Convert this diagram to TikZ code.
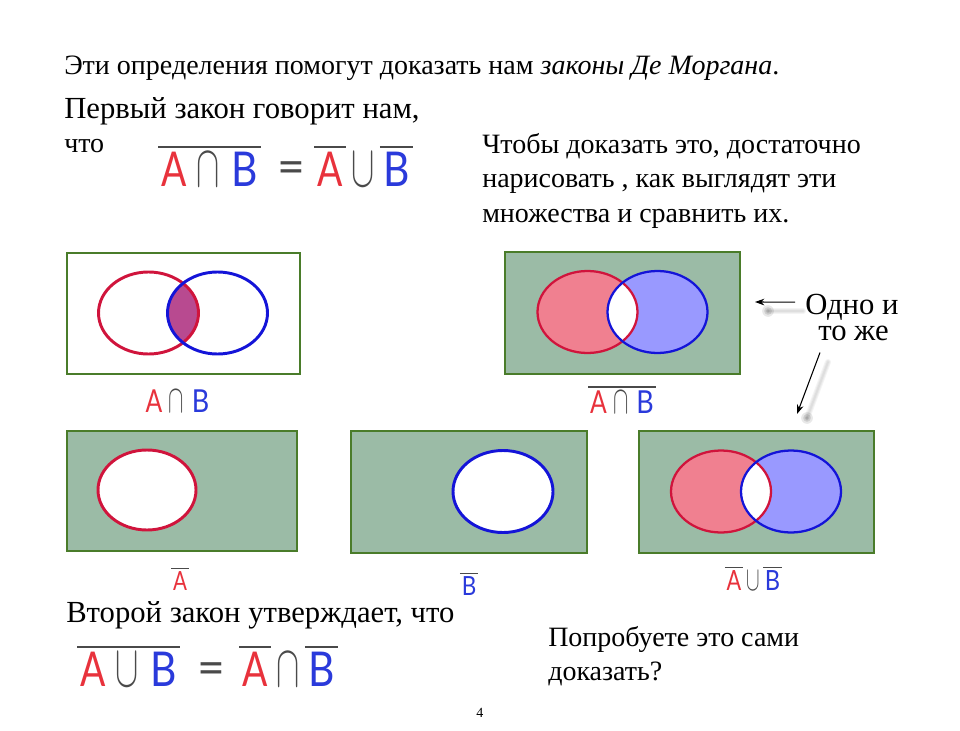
\documentclass[tikz,border=0pt]{standalone}
\usepackage{fontspec}
\setmainfont{Liberation Serif}
\newfontfamily\handfont{Lato}
\usetikzlibrary{arrows.meta}
\definecolor{lawred}{HTML}{E8323C}
\definecolor{lawblue}{HTML}{2A3ADB}
\definecolor{lawgray}{HTML}{4A4A4A}
\definecolor{boxgreen}{HTML}{4A7C2A}
\definecolor{boxfill}{HTML}{9BBBA6}
\definecolor{setred}{HTML}{D0143C}
\definecolor{setblue}{HTML}{1414D8}
\definecolor{fillred}{HTML}{F08090}
\definecolor{fillblue}{HTML}{9999FF}
\definecolor{fillboth}{HTML}{B84A90}
% hand written letters, all at one size, nodes scale them
\newcommand{\lawA}{\textcolor{lawred}{\scalebox{0.78}[1]{\handfont A}}}
\newcommand{\lawB}{\textcolor{lawblue}{\scalebox{0.85}[1]{\handfont B}}}
\newcommand{\lawcap}{\textcolor{lawgray}{\scalebox{1.05}[1.8]{$\cap$}}}
\newcommand{\lawcup}{\textcolor{lawgray}{\scalebox{1.05}[1.8]{$\cup$}}}
\newcommand{\lawbar}[1]{\vbox{\color{lawgray}\hrule height 1.5pt\vskip 3pt\hbox{\hskip 2.5pt #1\hskip 2.5pt}}}
\newcommand{\setA}[1]{(#1) ellipse [x radius=50, y radius=41]}

\begin{document}
\begin{tikzpicture}[
    x=0.75pt, y=-0.75pt,
    txt/.style = {anchor=base west, inner sep=0pt},
    line/.style = {txt, font=\fontsize{21}{25}\selectfont},
    big/.style = {txt, font=\fontsize{23}{27}\selectfont},
    hand/.style = {anchor=base, inner sep=0pt, font=\fontsize{36}{36}\selectfont},
    frame/.style = {draw=boxgreen, line width=2.2pt},
    filled/.style = {frame, fill=boxfill},
    redset/.style = {draw=setred, line width=2.2pt},
    blueset/.style = {draw=setblue, line width=2.2pt},
    thinred/.style = {draw=setred, line width=1.7pt},
    thinblue/.style = {draw=setblue, line width=1.7pt},
    pil/.style = {black, line width=0.8pt, -{Stealth[length=7pt,width=5pt]}},
    shade/.style = {line cap=round, black, opacity=0.045},
    blob/.style = {black, opacity=0.09}
    ]
  \useasboundingbox (0,0) rectangle (960,731);
  \fill[white] (0,0) rectangle (960,731);

  \node[line] (intro) at (64,75) {Эти определения помогут доказать нам \textit{законы Де Моргана}.};
  \node[big] (first) at (64,119) {Первый закон говорит нам,};
  \node[line] (what) at (64,153) {что};
  \node[line] (p1) at (482,154) {Чтобы доказать это, достаточно};
  \node[line] (p2) at (482,188) {нарисовать , как выглядят эти};
  \node[line] (p3) at (482,222) {множества и сравнить их.};
  \node[big] (second) at (66,622) {Второй закон утверждает, что};
  \node[line] (try1) at (548,646) {Попробуете это сами};
  \node[line] (try2) at (548,680) {доказать?};
  \node[txt, font=\fontsize{10.5}{12}\selectfont] (page) at (476,717) {4};

  % first law
  \node[hand] (f1) at (209.5,186) {\lawbar{\lawA\hskip 7pt\lawcap\hskip 9pt\lawB}};
  \node[hand] (f2) at (291.5,184) {\textcolor{lawgray}{\handfont =}};
  \node[hand] (f3) at (363.5,186) {\lawbar{\lawA}\hskip 4pt\lawcup\hskip 4pt\lawbar{\lawB}};
  % second law
  \node[hand] (g1) at (128.5,686) {\lawbar{\lawA\hskip 7pt\lawcup\hskip 9pt\lawB}};
  \node[hand] (g2) at (211.5,684) {\textcolor{lawgray}{\handfont =}};
  \node[hand] (g3) at (288.5,686) {\lawbar{\lawA}\hskip 4pt\lawcap\hskip 4pt\lawbar{\lawB}};

  % A and B
  \draw[frame] (67,253) rectangle (300,374);
  \begin{scope}
    \clip \setA{148.5,313};
    \fill[fillboth] \setA{217.5,313};
  \end{scope}
  \draw[redset] \setA{148.5,313};
  \draw[blueset] \setA{217.5,313};
  \node[hand, scale=0.66] (l1) at (177.5,412) {\lawA\hskip 7pt\lawcap\hskip 9pt\lawB};

  % not (A and B), not (A or B)
  \foreach \bx/\by/\ax/\ay/\cx/\cy in {505/252/587.5/312/657.5/312, 639/431/721/491.5/791/491.5}{
    \draw[filled] (\bx,\by) rectangle ++(235,122);
    \fill[fillred] \setA{\ax,\ay};
    \fill[fillblue] \setA{\cx,\cy};
    \begin{scope}
      \clip \setA{\ax,\ay};
      \fill[white] \setA{\cx,\cy};
    \end{scope}
    \draw[thinred] \setA{\ax,\ay};
    \draw[thinblue] \setA{\cx,\cy};
  }
  \node[hand, scale=0.66] (l2) at (622,413) {\lawbar{\lawA\hskip 7pt\lawcap\hskip 9pt\lawB}};

  \draw[filled] (67,431) rectangle (297,551);
  \fill[white] (147,490) ellipse [x radius=49, y radius=40];
  \draw[redset] (147,490) ellipse [x radius=49, y radius=40];
  \node[hand, scale=0.55] (l3) at (180,590) {\lawbar{\lawA}};

  \draw[filled] (351,431) rectangle (587,553);
  \fill[white] \setA{503,491.5};
  \draw[blueset] \setA{503,491.5};
  \node[hand, scale=0.55] (l4) at (469,595) {\lawbar{\lawB}};
  \node[hand, scale=0.58] (l5) at (753.5,590) {\lawbar{\lawA}\hskip 4pt\lawcup\hskip 4pt\lawbar{\lawB}};

  % the two remarks and their arrows
  \node[big, inner xsep=7.5pt, xshift=-7.5pt] (same1) at (805,314) {Одно и};
  \node[big] (same2) at (818,340) {то же};
  \coordinate (tip1) at (755,302);
  \coordinate (tip2) at (797,414);
  \coordinate (sh1a) at (803,311);
  \coordinate (sh1b) at (768,311);
  \coordinate (sh2a) at (828,362);
  \coordinate (sh2b) at (807,418);
  \foreach \w in {1.5,3,4.5}{
    \draw[shade, line width=\w pt] (sh1a) -- (sh1b);
    \draw[shade, line width=\w pt] (sh2a) -- (sh2b);
    \fill[blob] (sh1b) circle (\w*1.3);
    \fill[blob] (sh2b) circle (\w*1.3);
  }
  \draw[pil] ([yshift=3.5pt]same1.west) -- (tip1);
  \draw[pil] ([shift={(1.5pt,-9pt)}]same2.south west) -- (tip2);
\end{tikzpicture}
\end{document}
